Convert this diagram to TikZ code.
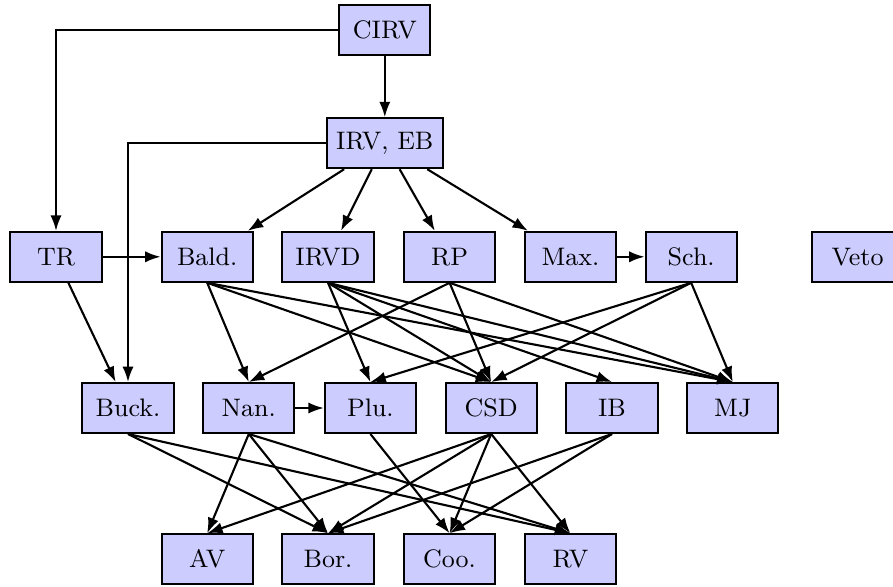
\documentclass[tikz,border=0pt]{standalone}
\usepackage{tikz}
\usetikzlibrary{arrows.meta}
\definecolor{ink}{HTML}{000000}
\definecolor{boxfill}{HTML}{CCCCFF}

\begin{document}
\begin{tikzpicture}[>={Latex[length=5.5pt,width=4pt]}, font=\small,
  meth/.style={draw=ink, line width=0.7pt, fill=boxfill, minimum width=1.14cm, minimum height=0.625cm},
  link/.style={->, ink, line width=0.75pt}]
\useasboundingbox (0,0) rectangle (11.1625,-7.325);
% top
\node[meth] (cirv) at (4.81,-0.375) {CIRV};
\node[meth] (irveb) at (4.81,-1.79) {IRV, EB};
% second row
\node[meth] (tr) at (0.70,-3.21) {TR};
\node[meth] (bald) at (2.59,-3.21) {Bald.};
\node[meth] (irvd) at (4.10,-3.21) {IRVD};
\node[meth] (rp) at (5.62,-3.21) {RP};
\node[meth] (max) at (7.13,-3.21) {Max.};
\node[meth] (sch) at (8.64,-3.21) {Sch.};
\node[meth] (veto) at (10.72,-3.21) {Veto};
% third row
\node[meth] (buck) at (1.60,-5.10) {Buck.};
\node[meth] (nan) at (3.11,-5.10) {Nan.};
\node[meth] (plu) at (4.63,-5.10) {Plu.};
\node[meth] (csd) at (6.14,-5.10) {CSD};
\node[meth] (ib) at (7.65,-5.10) {IB};
\node[meth] (mj) at (9.16,-5.10) {MJ};
% bottom
\node[meth] (av) at (2.59,-6.99) {AV};
\node[meth] (bor) at (4.10,-6.99) {Bor.};
\node[meth] (coo) at (5.62,-6.99) {Coo.};
\node[meth] (rv) at (7.13,-6.99) {RV};

\draw[link] (cirv) -- (irveb);
\draw[link] (cirv.west) -| (tr.north);
\draw[link] (irveb.west) -| (buck.north);
\draw[link] (irveb) -- (bald);
\draw[link] (irveb) -- (irvd);
\draw[link] (irveb) -- (rp);
\draw[link] (irveb) -- (max);
\draw[link] (tr) -- (bald);
\draw[link] (max) -- (sch);
\draw[link] (tr) -- (buck);
\draw[link] (bald.south) -- (nan.north);
\draw[link] (bald.south) -- (csd.north);
\draw[link] (bald.south) -- (mj.north);
\draw[link] (irvd.south) -- (plu.north);
\draw[link] (irvd.south) -- (csd.north);
\draw[link] (irvd.south) -- (ib.north);
\draw[link] (irvd.south) -- (mj.north);
\draw[link] (rp.south) -- (nan.north);
\draw[link] (rp.south) -- (csd.north);
\draw[link] (rp.south) -- (mj.north);
\draw[link] (sch.south) -- (plu.north);
\draw[link] (sch.south) -- (csd.north);
\draw[link] (sch.south) -- (mj.north);
\draw[link] (nan) -- (plu);
\draw[link] (buck.south) -- (bor.north);
\draw[link] (buck.south) -- (rv.north);
\draw[link] (nan.south) -- (av.north);
\draw[link] (nan.south) -- (bor.north);
\draw[link] (nan.south) -- (rv.north);
\draw[link] (plu.south) -- (coo.north);
\draw[link] (csd.south) -- (av.north);
\draw[link] (csd.south) -- (bor.north);
\draw[link] (csd.south) -- (coo.north);
\draw[link] (csd.south) -- (rv.north);
\draw[link] (ib.south) -- (bor.north);
\draw[link] (ib.south) -- (coo.north);
\end{tikzpicture}
\end{document}
